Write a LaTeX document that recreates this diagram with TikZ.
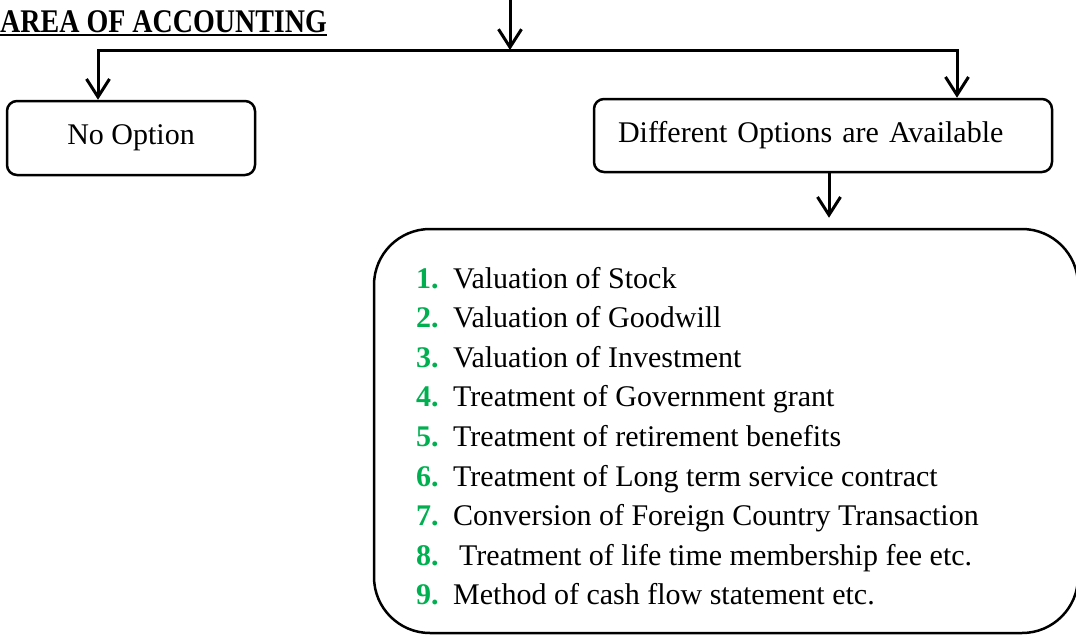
\documentclass[tikz,border=0pt]{standalone}
\usepackage{fontspec}
\setmainfont{Liberation Serif}
\usetikzlibrary{arrows.meta}
\definecolor{numgreen}{HTML}{00B050}
\begin{document}
\begin{tikzpicture}[x=1pt,y=-1pt,
  conn/.style={line width=3pt},
  arr/.style={conn,-{Straight Barb[length=18pt,width=23pt]}},
  box/.style={draw,line width=2.5pt,inner sep=0pt},
  txt/.style={font=\fontsize{30}{36}\selectfont},
  num/.style={font=\bfseries\fontsize{30}{36}\selectfont,text=numgreen,anchor=base west,inner sep=0pt},
  item/.style={txt,anchor=base west,inner sep=0pt}]
\useasboundingbox (0,0) rectangle (1076,635);
\clip (0,0) rectangle (1076,635);
% title
\node[anchor=base west,inner sep=0pt,font=\bfseries\fontsize{28}{32}\selectfont] (title) at (0,32) {\scalebox{1}[1.18]{AREA OF ACCOUNTING}};
\draw[line width=2pt] ([yshift=-3pt]title.base west) -- ([yshift=-3pt]title.base east);
% boxes
\node[box,rounded corners=10pt,minimum width=248pt,minimum height=74pt,txt] (noopt) at (131,138) {No Option};
\node[box,rounded corners=10pt,minimum height=73pt,inner xsep=24pt,text width=410pt,align=left,txt] (doa) at (823,135.5) {Different Options are Available};
\node[box,rounded corners=56pt,minimum width=704pt,minimum height=404pt] (opts) at (726,431) {};
% connectors
\coordinate (top) at (510,0);
\coordinate (j) at (510,50);
\coordinate (lc) at (98,50);
\coordinate (rc) at (957,50);
\draw[arr] (top) -- (j);
\draw[arr] (rc) -- (lc) -- (lc |- noopt.north);
\draw[arr] (lc) -- (rc) -- (rc |- doa.north);
\draw[arr,shorten >=10pt] ([xshift=6pt]doa.south) -- ([xshift=6pt]doa.south |- opts.north);
% list
\foreach \i/\t/\dx in {1/Valuation of Stock/0,
  2/Valuation of Goodwill/0,
  3/Valuation of Investment/0,
  4/Treatment of Government grant/0,
  5/Treatment of retirement benefits/0,
  6/Treatment of Long term service contract/0,
  7/Conversion of Foreign Country Transaction/0,
  8/Treatment of life time membership fee etc./6,
  9/Method of cash flow statement etc./0}{
  \node[num] (n\i) at (416,{288+39.6*(\i-1)}) {\i.};
  \node[item] (t\i) at ({453+\dx},{288+39.6*(\i-1)}) {\t};
}
\end{tikzpicture}
\end{document}
